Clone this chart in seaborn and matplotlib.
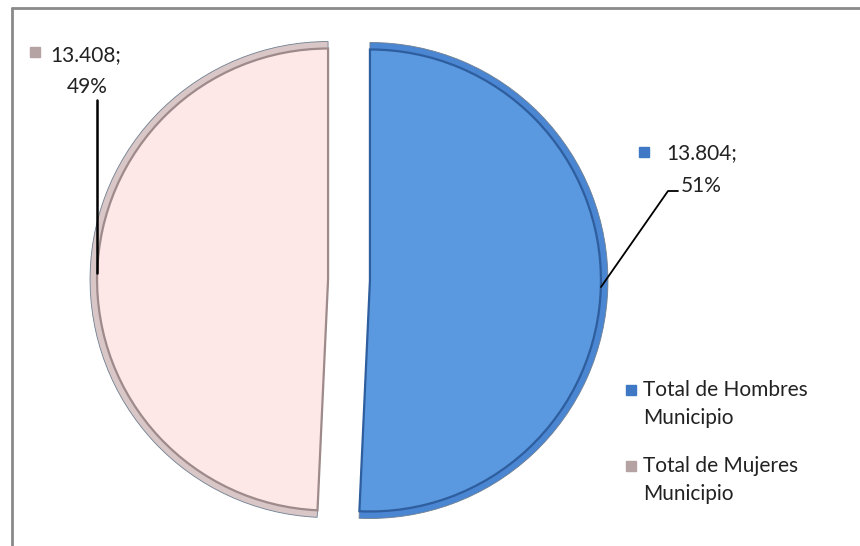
import matplotlib.pyplot as plt
import seaborn as sns
from matplotlib.lines import Line2D

# data
categories = ["Total de Hombres\nMunicipio", "Total de Mujeres\nMunicipio"]
values = [13804, 13408]
percent_labels = ["51%", "49%"]
value_labels = ["13.804;", "13.408;"]

face_colors = ["#5A98DF", "#FDE7E7"]
rim_colors = ["#4A86D2", "#D9C6C6"]
shadow_colors = ["#2E5E9E", "#9E8A8A"]
marker_colors = ["#3F78C4", "#B5A2A2"]

sns.set_theme(style="white")
plt.rcParams["font.family"] = ["Lato", "DejaVu Sans"]

W, H = 860, 546
fig = plt.figure(figsize=(W / 100, H / 100), dpi=100)
ax = fig.add_axes([0, 0, 1, 1])

cx, cy, r = 349, H - 280, 238
# explode given in axis units (pixels here)
explode = [0.088 * r, 0.088 * r]

# outer rim
ax.pie(values, colors=rim_colors, startangle=90, counterclock=False,
       center=(cx, cy), radius=r, explode=explode, frame=True,
       wedgeprops=dict(edgecolor="#6f7f90", linewidth=0.6))
# inner face with a darker shadow line
ax.pie(values, colors=face_colors, startangle=90, counterclock=False,
       center=(cx, cy), radius=r - 7, explode=explode, frame=True,
       wedgeprops=dict(linewidth=0))
inner = ax.patches[-2:]
for w, c in zip(inner, shadow_colors):
    w.set_edgecolor(c)
    w.set_linewidth(1.6)

ax.set_xlim(0, W)
ax.set_ylim(0, H)
ax.set_aspect("equal")
ax.axis("off")

# data labels with leader lines
ax.plot([601, 668, 678], [H - 287, H - 191, H - 191], color="black", lw=1.3)
ax.plot([97, 97], [H - 100, H - 273], color="black", lw=1.8)

ax.plot(644, H - 152, marker="s", ms=7, color=marker_colors[0])
ax.text(702, H - 153, value_labels[0], ha="center", va="center", fontsize=15, color="#222222")
ax.text(701, H - 186, percent_labels[0], ha="center", va="center", fontsize=15, color="#222222")

ax.plot(35, H - 52, marker="s", ms=7, color=marker_colors[1])
ax.text(86, H - 55, value_labels[1], ha="center", va="center", fontsize=15, color="#222222")
ax.text(87, H - 87, percent_labels[1], ha="center", va="center", fontsize=15, color="#222222")

# legend, marker aligned with the first line of each entry
for i, label in enumerate(categories):
    y0 = 390 + i * 76
    ax.plot(631, H - y0, marker="s", ms=7, color=marker_colors[i])
    first, second = label.split("\n")
    ax.text(643, H - y0, first, ha="left", va="center", fontsize=15, color="#222222")
    ax.text(643, H - y0 - 28, second, ha="left", va="center", fontsize=15, color="#222222")

# chart border (top and left visible)
fig.add_artist(Line2D([12 / W, 1], [1 - 8 / H, 1 - 8 / H], color="#8a8a8a", lw=2))
fig.add_artist(Line2D([12 / W, 12 / W], [1 - 8 / H, 0], color="#8a8a8a", lw=2))

plt.savefig("out.png", dpi=100)
